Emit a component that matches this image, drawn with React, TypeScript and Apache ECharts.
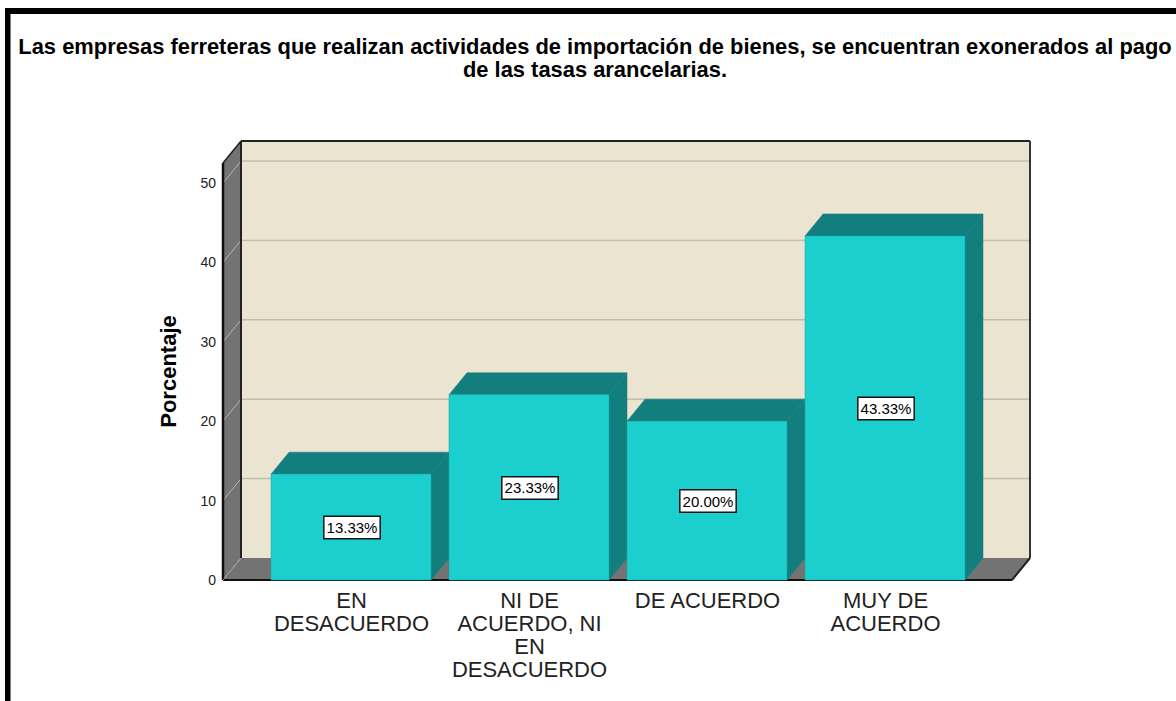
import React, { useEffect, useRef } from "react";
import * as echarts from "echarts";

const titleLines = [
  "Las empresas ferreteras que realizan actividades de importación de bienes, se encuentran exonerados al pago",
  "de las tasas arancelarias.",
];
const categories = ["EN\nDESACUERDO", "NI DE\nACUERDO, NI\nEN\nDESACUERDO", "DE ACUERDO", "MUY DE\nACUERDO"];
const percentages = [13.33, 23.33, 20.0, 43.33];
const gridTicks = [0, 10, 20, 30, 40, 50];
const yAxisName = "Porcentaje";

const DX = 18;
const DY = 22;
const LEFT_PAD = 39.5;
const RIGHT_PAD = 37.5;
const TOP_PAD = 20;
const BAR_RATIO = 160 / 178;
const FONT = "'Liberation Sans', Arial, sans-serif";

export default function App() {
  const ref = useRef<HTMLDivElement>(null);
  useEffect(() => {
    const chart = echarts.init(ref.current!, undefined, { renderer: "svg" });
    const renderWalls = (params: any, api: any) => {
      const cs = params.coordSys;
      const x0 = cs.x - LEFT_PAD;
      const x1 = cs.x + cs.width + RIGHT_PAD;
      const y0 = api.coord([0, 0])[1];
      const yTop = api.coord([0, 50])[1] - TOP_PAD;
      const poly = (points: number[][], fill: string) => ({
        type: "polygon",
        shape: { points },
        style: { fill, stroke: "none" },
      });
      const line = (a: number[], b: number[], stroke: string, lineWidth: number) => ({
        type: "line",
        shape: { x1: a[0], y1: a[1], x2: b[0], y2: b[1] },
        style: { stroke, lineWidth },
      });
      const children: any[] = [
        poly([[x0 + DX, yTop - DY], [x1 + DX, yTop - DY], [x1 + DX, y0 - DY], [x0 + DX, y0 - DY]], "#EAE4D0"),
        poly([[x0, yTop], [x0 + DX, yTop - DY], [x0 + DX, y0 - DY], [x0, y0]], "#737373"),
        poly([[x0, y0], [x0 + DX, y0 - DY], [x1 + DX, y0 - DY], [x1, y0]], "#737373"),
      ];
      gridTicks.forEach((t) => {
        const y = api.coord([0, t])[1];
        children.push(line([x0, y], [x0 + DX, y - DY], "#B5B5B0", 1));
        if (t > 0) children.push(line([x0 + DX, y - DY], [x1 + DX, y - DY], "#C0BEB4", 1.5));
      });
      children.push(
        line([x0, yTop], [x0, y0], "#111", 2.5),
        line([x0, yTop], [x0 + DX, yTop - DY], "#222", 1.5),
        line([x0 + DX, yTop - DY], [x0 + DX, y0 - DY], "#222", 2),
        line([x0 + DX, yTop - DY], [x1 + DX, yTop - DY], "#222", 2),
        line([x1 + DX, yTop - DY], [x1 + DX, y0 - DY], "#333", 2),
        line([x1 + DX, y0 - DY], [x1, y0], "#222", 2),
        line([x0, y0], [x1, y0], "#111", 2),
        line([x0, y0], [x0 + DX, y0 - DY], "#999", 1)
      );
      return { type: "group", children };
    };
    const renderBar = (_params: any, api: any) => {
      const idx = api.value(0);
      const val = api.value(1);
      const [cx, yv] = api.coord([idx, val]);
      const y0 = api.coord([idx, 0])[1];
      const w = api.size([1, 0])[0] * BAR_RATIO;
      const xl = cx - w / 2 - 0.5;
      const xr = xl + w;
      return {
        type: "group",
        children: [
          {
            type: "polygon",
            shape: { points: [[xl, yv], [xl + DX, yv - DY], [xr + DX, yv - DY], [xr, yv]] },
            style: { fill: "#127E7E", stroke: "#127E7E", lineWidth: 0.5 },
          },
          {
            type: "polygon",
            shape: { points: [[xr, yv], [xr + DX, yv - DY], [xr + DX, y0 - DY], [xr, y0]] },
            style: { fill: "#127E7E", stroke: "#127E7E", lineWidth: 0.5 },
          },
          {
            type: "rect",
            shape: { x: xl, y: yv, width: w, height: y0 - yv },
            style: { fill: "#1CCFCF", stroke: "#16A5A5", lineWidth: 0.5 },
          },
          {
            type: "text",
            x: cx + 0.5,
            y: (yv + y0) / 2 + 0.5,
            style: {
              text: val.toFixed(2) + "%",
              align: "center",
              verticalAlign: "middle",
              fill: "#000",
              font: `15px ${FONT}`,
              backgroundColor: "#fff",
              borderColor: "#111",
              borderWidth: 1.5,
              padding: [3, 2, 3, 2],
            },
          },
        ],
      };
    };
    chart.setOption({
      animation: false,
      backgroundColor: "#fff",
      title: {
        text: titleLines.join("\n"),
        left: 590,
        top: 30,
        textAlign: "center",
        textStyle: { fontFamily: FONT, fontWeight: "bold", fontSize: 21.9, lineHeight: 23, color: "#000" },
      },
      grid: { left: 262.5, top: 183, width: 712, height: 397 },
      xAxis: {
        type: "category",
        data: categories,
        axisLine: { show: false },
        axisTick: { show: false },
        axisLabel: { interval: 0, fontFamily: FONT, fontSize: 22, lineHeight: 23, color: "#222", margin: 9 },
      },
      yAxis: {
        type: "value",
        min: 0,
        max: 50,
        interval: 10,
        offset: LEFT_PAD,
        name: yAxisName,
        nameLocation: "middle",
        nameGap: 44,
        nameTextStyle: { fontFamily: FONT, fontWeight: "bold", fontSize: 22, color: "#000", padding: [0, 0, 0, 20] },
        axisLine: { show: false },
        axisTick: { show: false },
        splitLine: { show: false },
        axisLabel: { fontFamily: FONT, fontSize: 14, color: "#222", margin: 7, padding: [7, 0, 0, 0] },
      },
      graphic: [
        { type: "rect", shape: { x: 5, y: 8, width: 1171, height: 6 }, style: { fill: "#000" } },
        { type: "rect", shape: { x: 5, y: 8, width: 5.5, height: 693 }, style: { fill: "#000" } },
      ],
      series: [
        { type: "custom", silent: true, clip: false, renderItem: renderWalls, data: [[0, 0]], z: 1 },
        {
          type: "custom",
          silent: true,
          clip: false,
          renderItem: renderBar,
          encode: { x: 0, y: 1 },
          data: percentages.map((v, i) => [i, v]),
          z: 2,
        },
      ],
    });
    return () => chart.dispose();
  }, []);
  return <div ref={ref} style={{ position: "fixed", left: 0, top: 0, width: 1176, height: 701 }} />;
}
